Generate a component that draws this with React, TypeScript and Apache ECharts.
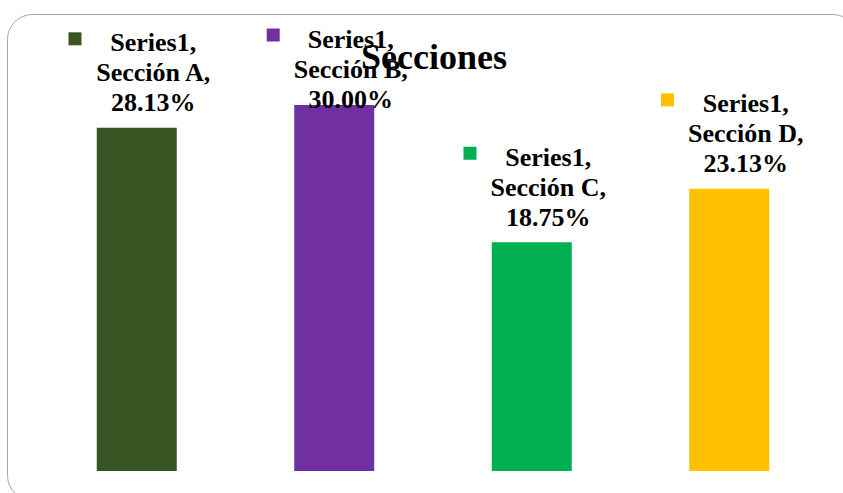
import React, { useEffect, useRef } from "react";
import * as echarts from "echarts";

const titleText = "Secciones";
const seriesName = "Series1";
const categories = ["Sección A", "Sección B", "Sección C", "Sección D"];
const values = [28.13, 30.0, 18.75, 23.13];
const barColors = ["#375623", "#7030A0", "#00B050", "#FFC000"];
const labelOffsets: [number, number][] = [[3, 0], [3, 19], [3, 0], [3, 0]];

const FONT = "'Liberation Serif', 'Times New Roman', serif";

function makeRich(color: string) {
  const txt = { fontSize: 26, fontWeight: "bold" as const, fontFamily: FONT, color: "#000", align: "center" as const };
  return {
    k: { width: 13, height: 13, backgroundColor: color, align: "left" as const, verticalAlign: "top" as const, lineHeight: 21 },
    g: { width: 14, height: 13, align: "left" as const, lineHeight: 21 },
    s: { width: 27, height: 13, align: "left" as const, lineHeight: 39 },
    s2: { width: 27, height: 13, align: "left" as const, lineHeight: 21 },
    a: { ...txt, lineHeight: 21 },
    b: { ...txt, lineHeight: 39 },
    c: { ...txt, lineHeight: 21 },
  };
}

export default function App() {
  const ref = useRef<HTMLDivElement>(null);
  useEffect(() => {
    if (!ref.current) return;
    const chart = echarts.init(ref.current, null, { renderer: "svg" });
    const data = values.map((v, i) => ({
      value: v,
      itemStyle: { color: barColors[i] },
      label: { offset: labelOffsets[i], rich: makeRich(barColors[i]) },
    }));
    chart.setOption({
      animation: false,
      backgroundColor: "#ffffff",
      title: {
        text: titleText,
        left: 361,
        top: 39,
        padding: 0,
        textStyle: { fontFamily: FONT, fontSize: 36, fontWeight: "bold", color: "#000" },
      },
      graphic: [
        {
          type: "rect",
          z: -10,
          silent: true,
          shape: { x: 7.5, y: 14.5, width: 850, height: 486, r: 25 },
          style: { fill: "none", stroke: "#a6a6a6", lineWidth: 1 },
        },
      ],
      grid: { left: 38, right: 15, top: 44, bottom: 22, containLabel: false },
      xAxis: {
        type: "category",
        data: categories,
        axisLine: { show: false },
        axisTick: { show: false },
        axisLabel: { show: false },
        splitLine: { show: false },
      },
      yAxis: {
        type: "value",
        min: 0,
        max: 35,
        show: false,
        splitLine: { show: false },
      },
      series: [
        {
          name: seriesName,
          type: "bar",
          barWidth: 80,
          data,
          label: {
            show: true,
            position: "top",
            distance: 14.5,
            formatter: (p: any) =>
              `{k|}{g|}{a|${seriesName},}\n{s|}{b|${p.name},}\n{s2|}{c|${Number(p.value).toFixed(2)}%}`,
          },
        },
      ],
    });
    return () => chart.dispose();
  }, []);
  return (
    <div
      ref={ref}
      style={{ position: "absolute", left: 0, top: 0, width: 843, height: 493 }}
    />
  );
}
